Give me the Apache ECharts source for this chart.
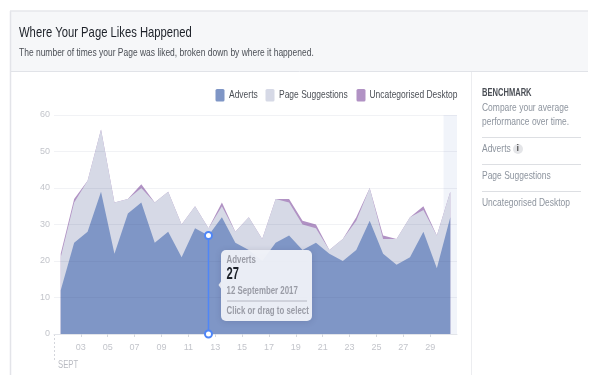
<!DOCTYPE html>
<html>
<head>
<meta charset="utf-8">
<style>html,body{margin:0;padding:0;background:#fff}#c{width:604px;height:386px}</style>
<script src="https://cdn.jsdelivr.net/npm/echarts@6/dist/echarts.min.js"></script>
</head>
<body>
<div id="c"></div>
<script>
const days = [1,2,3,4,5,6,7,8,9,10,11,12,13,14,15,16,17,18,19,20,21,22,23,24,25,26,27,28,29,30];
const adverts = [12,25,28,39,22,33,36,25,28,21,29,27,32,25,23,20,25,27,23,25,22,20,23,31,22,19,21,28,18,32];
const pageSuggestions = [9,11,14,17,14,4,4,11,11,9,6,2,3,3,9,6,12,9,7,4,1,6,8,9,4,7,11,6,9,7];
const uncategorised = [1,1,0,0,0,0,1,0,0,0,0,0,1,0,0,0,0,1,1,1,0,0,1,0,1,0,0,1,0,0];
const seriesNames = ['Adverts','Page Suggestions','Uncategorised Desktop'];
const seriesColors = ['#7f96c6','#d6d9e6','#b192c4'];
const yTicks = [0,10,20,30,40,50,60];
const selectedDay = 12;
const bandDay = 30;
const FONT = '"Liberation Sans",Arial,sans-serif';
const SQUEEZE = 0.77;
const topOfPages = adverts.map((v,i)=>v+pageSuggestions[i]);
const topOfAll = topOfPages.map((v,i)=>v+uncategorised[i]);
const pts = a => a.map((v,i)=>[days[i]-0.5, v]);
const area = (name,data,color) => ({
  name, type:'line', data:pts(data), symbol:'none', z:2,
  lineStyle:{width:0}, itemStyle:{color}, areaStyle:{color,opacity:1}, silent:true
});
const chart = echarts.init(document.getElementById('c'),null,{renderer:'canvas'});
const txt = (text,x,y,size,fill,weight,sx) => ({type:'text',x,y,z:20,silent:true,scaleX:sx||SQUEEZE,
  style:{text,fontFamily:FONT,fontSize:size,fill,fontWeight:weight||'normal',verticalAlign:'middle'}});
const rule = (x1,y1,x2,y2,stroke,extra) => ({type:'line',z:-1,silent:true,shape:{x1,y1,x2,y2},
  style:Object.assign({stroke,lineWidth:1},extra||{})});
const swatch = (x,color) => ({type:'rect',z:20,silent:true,shape:{x,y:89,width:9,height:12.5,r:1.5},style:{fill:color}});
const selectedValue = adverts[days.indexOf(selectedDay)];
chart.setOption({
  animation:false,
  backgroundColor:'#ffffff',
  grid:{left:54,top:115,width:403,height:219,containLabel:false},
  xAxis:{
    type:'value',min:0,max:30,interval:2,z:3,
    axisLine:{show:true,lineStyle:{color:'#e3e5ea'}},
    axisTick:{show:true,length:3,lineStyle:{color:'#d5d8de'}},
    axisLabel:{color:'#c3c5cb',fontFamily:FONT,fontSize:9,margin:9,showMinLabel:false,showMaxLabel:false,
      formatter:v=>String(v+1).padStart(2,'0')},
    splitLine:{show:false}
  },
  yAxis:{
    type:'value',min:yTicks[0],max:yTicks[yTicks.length-1],interval:10,z:3,
    axisLine:{show:false},axisTick:{show:false},
    axisLabel:{color:'#c3c5cb',fontFamily:FONT,fontSize:9,margin:4},
    splitLine:{show:true,lineStyle:{color:'rgba(60,70,110,0.07)'}}
  },
  series:[
    area(seriesNames[2],topOfAll,seriesColors[2]),
    area(seriesNames[1],topOfPages,seriesColors[1]),
    area(seriesNames[0],adverts,seriesColors[0]),
    {type:'line',name:'band',data:[],z:3,silent:true,
      markArea:{silent:true,itemStyle:{color:'rgba(225,230,243,0.45)'},data:[[{xAxis:bandDay-1,yAxis:yTicks[0]},{xAxis:bandDay,yAxis:yTicks[yTicks.length-1]}]]}},
    {type:'line',name:'selected',z:5,silent:true,
      data:[[selectedDay-0.5,0],[selectedDay-0.5,selectedValue]],
      symbol:'circle',symbolSize:7,showSymbol:true,
      lineStyle:{color:'#4f86f7',width:1.5},
      itemStyle:{color:'#ffffff',borderColor:'#4f86f7',borderWidth:2}}
  ],
  graphic:[
    {type:'rect',z:-2,silent:true,shape:{x:11,y:11,width:577,height:60},style:{fill:'#f6f7f9'}},
    rule(10.5,11,10.5,375,'#e3e4e9',{lineWidth:1.5}),
    rule(10,11,588,11,'#e6e7eb',{lineWidth:1.5}),
    rule(11,71.5,588,71.5,'#e1e3e8'),
    rule(471.5,72,471.5,375,'#ecedf0'),
    rule(54.5,334,54.5,361,'#d4d6dc',{lineDash:[2,2]}),
    swatch(215.5,seriesColors[0]),
    txt(seriesNames[0],229,95,11,'#4b4f56'),
    swatch(265.5,seriesColors[1]),
    txt(seriesNames[1],279,95,11,'#4b4f56'),
    swatch(356.5,seriesColors[2]),
    txt(seriesNames[2],369.5,95,11,'#4b4f56'),
    txt('Where Your Page Likes Happened',19,33,15,'#1d2129',null,0.75),
    txt('The number of times your Page was liked, broken down by where it happened.',19,52.5,11,'#4b4f56'),
    txt('SEPT',58,365,10,'#b9bbc2'),
    txt('BENCHMARK',482,93,10.5,'#4b4f56','bold',0.72),
    txt('Compare your average',482,107.5,11,'#8d949e'),
    txt('performance over time.',482,122,11,'#8d949e'),
    rule(482,137.5,581,137.5,'#dddfe3'),
    txt(seriesNames[0],482,149,11,'#8d949e'),
    {type:'circle',z:19,silent:true,shape:{cx:518,cy:149,r:5},style:{fill:'#e4e5e8'}},
    txt('i',516.5,149,9,'#555','bold',1),
    rule(482,164.5,581,164.5,'#dddfe3'),
    txt(seriesNames[1],482,176,11,'#8d949e'),
    rule(482,191.5,581,191.5,'#dddfe3'),
    txt(seriesNames[2],482,203,11,'#8d949e'),
    {type:'polygon',z:10,silent:true,shape:{points:[[221,281.5],[218.5,285],[221,288.5]]},style:{fill:'#f1f3f9'}},
    {type:'rect',z:10,silent:true,shape:{x:221,y:250,width:91,height:71,r:5},
      style:{fill:'rgba(241,243,249,0.94)',shadowBlur:6,shadowColor:'rgba(40,50,90,0.18)',shadowOffsetY:1}},
    txt(seriesNames[0],226.5,260,10.5,'#9a9ca6','bold',0.75),
    txt(String(selectedValue),226.5,275,16,'#1d2129','bold',0.7),
    txt(selectedDay+' September 2017',226.5,291.5,10.5,'#9a9ca6','bold',0.75),
    {type:'line',z:20,silent:true,shape:{x1:227,y1:301,x2:307,y2:301},style:{stroke:'#b4b6c2',lineWidth:1}},
    txt('Click or drag to select',226.5,311,10.5,'#9a9ca6','bold',0.75)
  ]
});
</script>
</body>
</html>
